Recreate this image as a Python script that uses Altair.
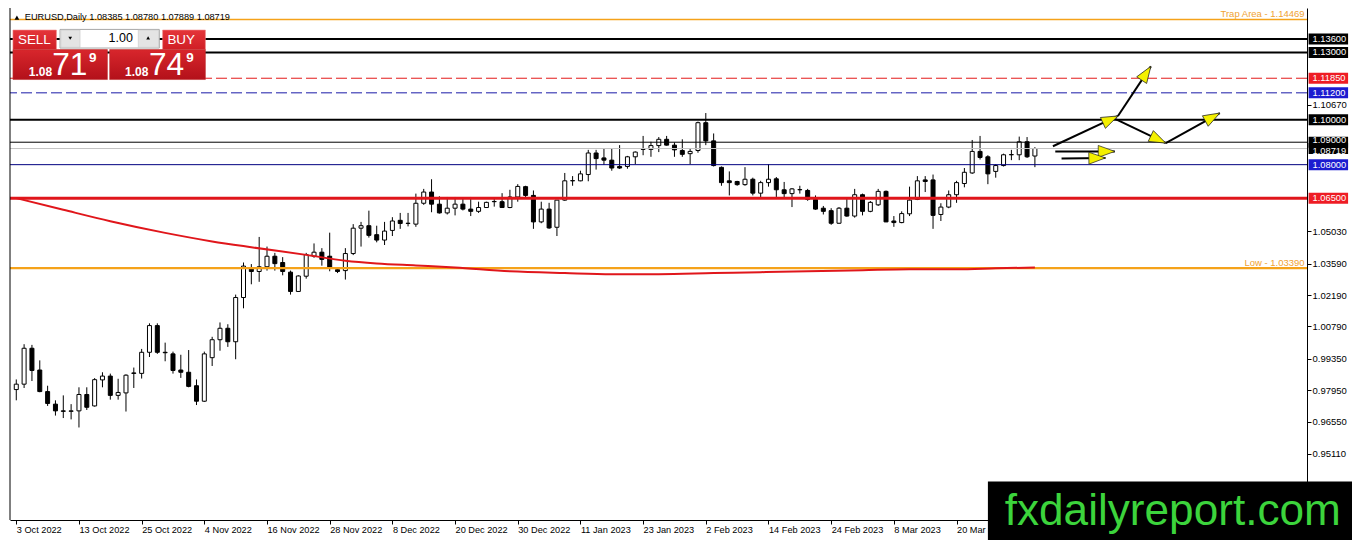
import math
import altair as alt
import pandas as pd

# ---------------- data ----------------
bar_open = [0.9798, 0.9822, 0.9982, 0.9885, 0.9789, 0.9733, 0.9703, 0.9701, 0.9703, 0.9776,
            0.9725, 0.9841, 0.9858, 0.9772, 0.9783, 0.9872, 0.9870, 0.9964, 1.0083, 0.9964,
            0.9957, 0.9885, 0.9875, 0.9815, 0.9746, 0.9940, 1.0020, 1.0071, 1.0011, 1.0208,
            1.0335, 1.0324, 1.0345, 1.0392, 1.0364, 1.0321, 1.0235, 1.0303, 1.0392, 1.0410,
            1.0392, 1.0332, 1.0328, 1.0404, 1.0517, 1.0528, 1.0488, 1.0464, 1.0507, 1.0552,
            1.0538, 1.0535, 1.0628, 1.0678, 1.0624, 1.0585, 1.0606, 1.0624, 1.0602, 1.0592,
            1.0609, 1.0635, 1.0635, 1.0609, 1.0656, 1.0702, 1.0663, 1.0545, 1.0602, 1.0521,
            1.0642, 1.0728, 1.0728, 1.0756, 1.0852, 1.0830, 1.0820, 1.0792, 1.0792, 1.0835,
            1.0868, 1.0868, 1.0885, 1.0913, 1.0887, 1.0863, 1.0849, 1.0863, 1.0987, 1.0906,
            1.0788, 1.0728, 1.0725, 1.0711, 1.0735, 1.0673, 1.0720, 1.0737, 1.0688, 1.0671,
            1.0688, 1.0685, 1.0645, 1.0606, 1.0595, 1.0539, 1.0606, 1.0571, 1.0666, 1.0592,
            1.0621, 1.0681, 1.0549, 1.0542, 1.0581, 1.0645, 1.0732, 1.0732, 1.0578, 1.0611,
            1.0666, 1.0716, 1.0763, 1.0859, 1.0835, 1.0770, 1.0796, 1.0844, 1.0844, 1.0902,
            1.08385]
bar_high = [0.9843, 1.0000, 0.9997, 0.9928, 0.9815, 0.9750, 0.9772, 0.9733, 0.9808, 0.9808,
            0.9849, 0.9875, 0.9869, 0.9846, 0.9866, 0.9896, 0.9979, 1.0093, 1.0093, 1.0007,
            0.9967, 0.9953, 0.9974, 0.9843, 0.9967, 1.0033, 1.0097, 1.0089, 1.0221, 1.0364,
            1.0357, 1.0478, 1.0435, 1.0407, 1.0388, 1.0328, 1.0307, 1.0407, 1.0449, 1.0428,
            1.0497, 1.0342, 1.0428, 1.0535, 1.0545, 1.0595, 1.0528, 1.0545, 1.0566, 1.0585,
            1.0585, 1.0671, 1.0692, 1.0735, 1.0659, 1.0656, 1.0656, 1.0649, 1.0656, 1.0635,
            1.0635, 1.0649, 1.0673, 1.0688, 1.0713, 1.0706, 1.0685, 1.0635, 1.0630, 1.0642,
            1.0763, 1.0749, 1.0773, 1.0866, 1.0866, 1.0870, 1.0870, 1.0887, 1.0839, 1.0859,
            1.0928, 1.0902, 1.0923, 1.0928, 1.0899, 1.0913, 1.0873, 1.0992, 1.1030, 1.0939,
            1.0792, 1.0770, 1.0728, 1.0789, 1.0742, 1.0728, 1.0802, 1.0745, 1.0723, 1.0696,
            1.0706, 1.0692, 1.0663, 1.0616, 1.0606, 1.0611, 1.0649, 1.0692, 1.0671, 1.0638,
            1.0692, 1.0685, 1.0571, 1.0592, 1.0702, 1.0749, 1.0749, 1.0756, 1.0628, 1.0685,
            1.0728, 1.0785, 1.0910, 1.0928, 1.0842, 1.0802, 1.0849, 1.0866, 1.0925, 1.0923,
            1.0878]
bar_low = [0.9750, 0.9805, 0.9836, 0.9786, 0.9725, 0.9682, 0.9671, 0.9665, 0.9629, 0.9707,
           0.9722, 0.9808, 0.9753, 0.9753, 0.9700, 0.9805, 0.9847, 0.9943, 0.9957, 0.9924,
           0.9869, 0.9850, 0.9808, 0.9729, 0.9743, 0.9903, 0.9971, 0.9988, 0.9933, 1.0160,
           1.0267, 1.0278, 1.0328, 1.0328, 1.0307, 1.0221, 1.0233, 1.0292, 1.0385, 1.0350,
           1.0325, 1.0317, 1.0288, 1.0397, 1.0435, 1.0475, 1.0454, 1.0442, 1.0482, 1.0514,
           1.0525, 1.0523, 1.0621, 1.0588, 1.0582, 1.0578, 1.0574, 1.0596, 1.0571, 1.0585,
           1.0607, 1.0613, 1.0607, 1.0606, 1.0635, 1.0656, 1.0514, 1.0539, 1.0514, 1.0482,
           1.0639, 1.0706, 1.0726, 1.0726, 1.0778, 1.0799, 1.0773, 1.0781, 1.0782, 1.0802,
           1.0842, 1.0835, 1.0856, 1.0885, 1.0835, 1.0835, 1.0802, 1.0853, 1.0887, 1.0792,
           1.0706, 1.0663, 1.0706, 1.0706, 1.0663, 1.0654, 1.0702, 1.0656, 1.0654, 1.0611,
           1.0671, 1.0639, 1.0599, 1.0578, 1.0532, 1.0537, 1.0568, 1.0564, 1.0574, 1.0588,
           1.0616, 1.0544, 1.0523, 1.0539, 1.0571, 1.0642, 1.0678, 1.0514, 1.0549, 1.0606,
           1.0630, 1.0699, 1.0759, 1.0823, 1.0713, 1.0742, 1.0792, 1.0820, 1.0820, 1.0830,
           1.07889]
bar_close = [0.9822, 0.9982, 0.9883, 0.9789, 0.9736, 0.9703, 0.9701, 0.9703, 0.9776, 0.9719,
             0.9842, 0.9858, 0.9772, 0.9785, 0.9862, 0.9870, 0.9964, 1.0083, 0.9964, 0.9962,
             0.9883, 0.9875, 0.9812, 0.9746, 0.9957, 1.0020, 1.0071, 1.0011, 1.0208, 1.0348,
             1.0324, 1.0345, 1.0392, 1.0359, 1.0324, 1.0235, 1.0304, 1.0399, 1.0410, 1.0378,
             1.0342, 1.0324, 1.0404, 1.0517, 1.0528, 1.0485, 1.0464, 1.0504, 1.0549, 1.0538,
             1.0539, 1.0628, 1.0678, 1.0624, 1.0585, 1.0606, 1.0624, 1.0602, 1.0592, 1.0609,
             1.0632, 1.0636, 1.0609, 1.0656, 1.0703, 1.0663, 1.0545, 1.0602, 1.0518, 1.0642,
             1.0728, 1.0729, 1.0759, 1.0852, 1.0827, 1.0820, 1.0785, 1.0785, 1.0835, 1.0856,
             1.0869, 1.0885, 1.0913, 1.0887, 1.0866, 1.0846, 1.0859, 1.0987, 1.0906, 1.0796,
             1.0720, 1.0720, 1.0711, 1.0735, 1.0673, 1.0720, 1.0735, 1.0688, 1.0671, 1.0692,
             1.0689, 1.0645, 1.0602, 1.0592, 1.0539, 1.0606, 1.0571, 1.0666, 1.0592, 1.0632,
             1.0681, 1.0545, 1.0542, 1.0582, 1.0642, 1.0728, 1.0725, 1.0574, 1.0611, 1.0666,
             1.0720, 1.0766, 1.0859, 1.0832, 1.0759, 1.0796, 1.0844, 1.0845, 1.0902, 1.0835,
             1.08719]

date_labels = ["3 Oct 2022", "13 Oct 2022", "25 Oct 2022", "4 Nov 2022", "16 Nov 2022",
               "28 Nov 2022", "8 Dec 2022", "20 Dec 2022", "30 Dec 2022", "11 Jan 2023",
               "23 Jan 2023", "2 Feb 2023", "14 Feb 2023", "24 Feb 2023", "8 Mar 2023",
               "20 Mar 2023"]

ma_bar = [0, 6, 12, 19, 25, 30, 37, 42, 46, 51, 56, 63, 70, 76, 82, 89, 95, 101, 108, 114, 120, 125, 130]
ma_value = [1.0651, 1.0599, 1.0548, 1.0496, 1.0458, 1.0432, 1.0398, 1.0372, 1.0360, 1.0351,
            1.0342, 1.0325, 1.0317, 1.0312, 1.0312, 1.0317, 1.0321, 1.0325, 1.0330, 1.0334,
            1.0334, 1.0338, 1.0342]

levels_black_thick = [1.13600, 1.13000, 1.10000]
levels_black_thin = [1.09000]
level_red_dash = [1.11850]
level_blue_dash = [1.11200]
level_navy = [1.08000]
level_red_thick = [1.06500]
level_current = [1.08719]
level_trap = 1.14469
level_low = 1.03390

box_values = [1.13600, 1.13000, 1.11850, 1.11200, 1.10000, 1.08000, 1.06500]
box_colors = ["#000000", "#000000", "#ee1c24", "#1c1cd0", "#000000", "#1c1cd0", "#ee1c24"]

price_ticks = [1.10670, 1.05030, 1.03590, 1.02190, 1.00790, 0.99350, 0.97950, 0.96550, 0.95110]

arrow_x0 = [132.3, 140.6, 140.3, 146.7, 132.6, 133.4]
arrow_y0 = [1.0882, 1.1017, 1.1003, 1.0896, 1.0859, 1.0827]
arrow_x1 = [140.6, 144.8, 146.7, 153.6, 140.2, 139.0]
arrow_y1 = [1.1017, 1.1238, 1.0896, 1.1030, 1.0859, 1.0830]

title_text = "EURUSD,Daily  1.08385 1.08780 1.07889 1.08719"

# ---------------- layout ----------------
TOT_W, TOT_H = 1344, 532
SX = TOT_W / 1362
SY = TOT_H / 554
PAD_L = round(2 * SX)
W = round((1316 - 2) * SX)
H = round(533 * SY)
PAD_R = TOT_W - PAD_L - W
PAD_B = TOT_H - H


def px(X):
    return (X - 2) * SX


def py(Y):
    return Y * SY


X_LO = (2 - 3.3) / 8
X_HI = (1316 - 3.3) / 8
Y_HI = 1.1498
Y_LO = 1.1498 - 533 * 0.000428
PPX = W / (X_HI - X_LO)
PPY = H / (Y_HI - Y_LO)

FONT = "Liberation Sans"
xs = alt.Scale(domain=[X_LO, X_HI], nice=False, zero=False)
ys = alt.Scale(domain=[Y_LO, Y_HI], nice=False, zero=False)

label_expr = "[" + ",".join("'%s'" % d for d in date_labels) + "][round(datum.value / 8)]"
x_axis = alt.Axis(values=list(range(0, 8 * len(date_labels), 8)), labelExpr=label_expr,
                  labelAlign="left", labelBaseline="top", labelPadding=1, labelFont=FONT,
                  labelFontSize=9.2, labelColor="#000000", tickSize=4, tickColor="#000000",
                  domainColor="#000000", grid=False, title=None, labelOverlap=False,
                  labelFlush=False, labelBound=False)
y_axis = alt.Axis(orient="right", values=price_ticks, format=".5f", labelFont=FONT,
                  labelFontSize=9.5, labelColor="#000000", tickSize=4, tickColor="#000000",
                  domainColor="#000000", grid=False, title=None, labelPadding=1,
                  labelOverlap=False, labelFlush=False, labelBound=False)


def X(f):
    return alt.X(f, scale=xs, axis=x_axis, title=None)


def Y(f):
    return alt.Y(f, scale=ys, axis=y_axis, title=None)


cdf = pd.DataFrame({"i": list(range(len(bar_open))), "o": bar_open, "h": bar_high,
                    "l": bar_low, "c": bar_close})
cdf["fill"] = ["#ffffff" if c >= o else "#000000" for o, c in zip(bar_open, bar_close)]

layers = []

wicks = alt.Chart(cdf).mark_rule(color="#000000", strokeWidth=1, clip=True).encode(
    x=X("i:Q"), y=Y("l:Q"), y2="h:Q")
layers.append(wicks)

bodies = alt.Chart(cdf).mark_bar(size=4, stroke="#000000", strokeWidth=1, clip=True).encode(
    x=X("i:Q"), y=Y("o:Q"), y2="c:Q", fill=alt.Fill("fill:N", scale=None))
layers.append(bodies)


def hlines(vals, color, width, dash=None):
    kw = dict(color=color, strokeWidth=width)
    if dash:
        kw["strokeDash"] = dash
    return alt.Chart(pd.DataFrame({"p": vals})).mark_rule(**kw).encode(y=Y("p:Q"))


layers += [
    hlines(level_current, "#c4c4c4", 1),
    hlines(level_navy, "#000080", 1),
    hlines(levels_black_thin, "#000000", 1),
    hlines(levels_black_thick, "#000000", 2),
    hlines(level_red_dash, "#e31a1a", 1, [11, 4]),
    hlines(level_blue_dash, "#1a1aa8", 1, [11, 4]),
    hlines(level_red_thick, "#e0161b", 3),
    hlines([level_trap], "#f5a21a", 1.5),
    hlines([level_low], "#f5a21a", 2.2),
]

ma = alt.Chart(pd.DataFrame({"b": ma_bar, "v": ma_value})).mark_line(
    color="#e0161b", strokeWidth=2, interpolate="monotone", clip=True).encode(
    x=X("b:Q"), y=Y("v:Q"))
layers.append(ma)

notes = pd.DataFrame({"p": [level_trap, level_low],
                      "t": ["Trap Area - 1.14469", "Low - 1.03390"]})
layers.append(alt.Chart(notes).mark_text(align="right", baseline="alphabetic", dy=-2,
                                         font=FONT, fontSize=9.5, color="#f0a232").encode(
    x=alt.value(px(1314)), y=Y("p:Q"), text="t:N"))

# arrows
adf = pd.DataFrame({"x0": arrow_x0, "y0": arrow_y0, "x1": arrow_x1, "y1": arrow_y1})
adf["ang"] = [math.degrees(math.atan2((b - a) * PPX, (d - c) * PPY)) % 360
              for a, b, c, d in zip(arrow_x0, arrow_x1, arrow_y0, arrow_y1)]
layers.append(alt.Chart(adf).mark_rule(color="#000000", strokeWidth=2).encode(
    x=X("x0:Q"), x2="x1:Q", y=Y("y0:Q"), y2="y1:Q"))
layers.append(alt.Chart(adf).mark_point(shape="M0,0L0.72,2L-0.72,2Z", filled=True,
                                        fill="#f4f000", stroke="#222222", strokeWidth=0.7,
                                        opacity=1, size=275).encode(
    x=X("x1:Q"), y=Y("y1:Q"), angle=alt.Angle("ang:Q", scale=None)))

# right axis price boxes
RECT = "M-2,-0.56L2,-0.56L2,0.56L-2,0.56Z"


def price_boxes(vals, cols, shift):
    d = pd.DataFrame({"p": vals, "col": cols, "t": ["%.5f" % v for v in vals]})
    return [
        alt.Chart(d).mark_point(shape=RECT, filled=True, opacity=1, strokeWidth=0,
                                size=(20 * SX) ** 2, dy=shift).encode(
            x=alt.value(px(1338)), y=Y("p:Q"), fill=alt.Fill("col:N", scale=None)),
        alt.Chart(d).mark_text(align="left", baseline="middle", font=FONT, fontSize=9.3,
                               color="#ffffff", dy=shift).encode(
            x=alt.value(px(1322)), y=Y("p:Q"), text="t:N"),
    ]


layers += price_boxes(box_values, box_colors, 0)
layers += price_boxes(levels_black_thin, ["#000000"], -2.5)
layers += price_boxes(level_current, ["#000000"], 2.5)

one = pd.DataFrame({"k": [0]})


def rect(x0, y0, x1, y1, fill, stroke=None, sw=0):
    kw = dict(fill=fill, strokeWidth=sw)
    if stroke:
        kw["stroke"] = stroke
    return alt.Chart(one).mark_rect(**kw).encode(
        x=alt.value(px(x0)), x2=alt.value(px(x1)), y=alt.value(py(y0)), y2=alt.value(py(y1)))


def text(t, x, y, size, color="#ffffff", align="left", baseline="alphabetic",
         weight="normal", font=FONT):
    return alt.Chart(one).mark_text(text=t, align=align, baseline=baseline,
                                    fontSize=size * SY, color=color, fontWeight=weight,
                                    font=font).encode(x=alt.value(px(x)), y=alt.value(py(y)))


def tri(shape, x, y, size, color="#000000"):
    return alt.Chart(one).mark_point(shape=shape, filled=True, opacity=1, color=color,
                                     size=size).encode(x=alt.value(px(x)), y=alt.value(py(y)))


# left frame
layers.append(alt.Chart(one).mark_rule(color="#000000", strokeWidth=1).encode(
    x=alt.value(0), y=alt.value(0), y2=alt.value(H)))

# title
layers.append(tri("triangle-up", 9, 10, 22))
layers.append(text(title_text, 17, 12.5, 9.6, color="#000000"))

# one-click trading panel
body_grad = alt.Gradient(gradient="linear", x1=0, y1=0, x2=0, y2=1,
                         stops=[alt.GradientStop(color="#d8262c", offset=0),
                                alt.GradientStop(color="#b3111a", offset=1)])
head_grad = alt.Gradient(gradient="linear", x1=0, y1=0, x2=0, y2=1,
                         stops=[alt.GradientStop(color="#e4353a", offset=0),
                                alt.GradientStop(color="#d01e25", offset=1)])
layers += [
    rect(5, 23, 49, 43.3, head_grad, "#f08080", 0.6),
    rect(5, 43.3, 100.7, 74.5, body_grad, "#c03030", 0.6),
    rect(156.7, 23, 200, 43.3, head_grad, "#f08080", 0.6),
    rect(103, 43.3, 200, 74.5, body_grad, "#c03030", 0.6),
    rect(52.7, 22.3, 153.3, 41.7, "#ffffff", "#a8a8a8", 1),
    rect(53.5, 23, 73, 41, "#e4e4e4", "#c8c8c8", 0.6),
    rect(132, 23, 152.5, 41, "#e4e4e4", "#c8c8c8", 0.6),
    tri("triangle-down", 63, 31.5, 14),
    tri("triangle-up", 142, 31, 14),
    text("1.00", 126.5, 35.5, 13, color="#000000", align="right"),
    text("SELL", 26.7, 37.5, 14, align="center"),
    text("BUY", 175.5, 37.5, 14, align="center"),
    text("1.08", 21, 70.5, 12.5, weight="bold"),
    text("71", 80.5, 70, 33, align="right"),
    text("9", 82, 56.5, 14, weight="bold"),
    text("1.08", 118.5, 70.5, 12.5, weight="bold"),
    text("74", 178.5, 70, 33, align="right"),
    text("9", 180.5, 56.5, 14, weight="bold"),
]

# logo
layers.append(rect(993, 493, 1370, 560, "#000000"))
layers.append(text("fxdailyreport.com", 1010, 538, 46, color="#3cd43c"))

chart = alt.layer(*layers).properties(
    width=W, height=H,
    padding={"left": PAD_L, "top": 0, "right": PAD_R, "bottom": PAD_B},
    autosize=alt.AutoSizeParams(type="none"),
    background="#ffffff",
).configure_view(stroke=None)

chart.save("out.html", embed_options={"renderer": "svg", "actions": False})
